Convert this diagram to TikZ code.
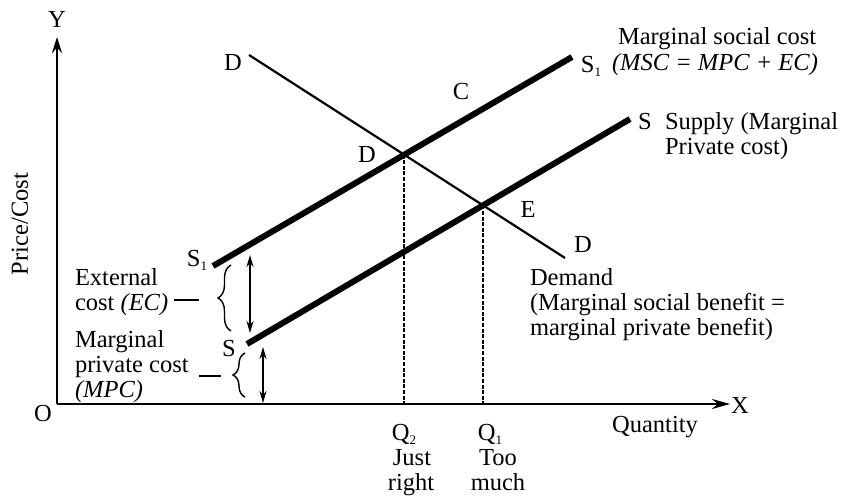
\documentclass[tikz,border=0pt]{standalone}
\usepackage{fontspec}
\setmainfont{Liberation Serif}
\usetikzlibrary{arrows.meta,decorations.pathreplacing}
\newcommand{\subone}[1]{\raisebox{-4pt}{\fontsize{13}{13}\selectfont #1}}
\begin{document}
\begin{tikzpicture}[x=1pt,y=-1pt,
  every node/.style={inner sep=0pt,outer sep=0pt,font=\fontsize{24.5}{25}\selectfont},
  axisline/.style={line width=2.4pt},
  supplyline/.style={line width=6pt},
  demandline/.style={line width=2.2pt},
  guide/.style={line width=2.3pt,dash pattern=on 4pt off 1.6pt},
  dbl/.style={line width=1.8pt,{Stealth[length=12pt,width=7pt]}-{Stealth[length=12pt,width=7pt]}},
  bracestyle/.style={line width=1.4pt,decorate,decoration={brace,amplitude=#1}},
  tickline/.style={line width=1.4pt},
  lbl/.style={anchor=base},
  lblw/.style={anchor=base west}]
\useasboundingbox (0,0) rectangle (843,502);

% axes
\coordinate (O) at (57,404);
\coordinate (ytop) at (57,37);
\coordinate (xend) at (730,404);
\draw[axisline,-{Stealth[length=16pt,width=10pt]}] (O) -- (ytop);
\draw[axisline,-{Stealth[length=18pt,width=10pt]}] (O) -- (xend);
\node[lbl] (ylab) at (57,28) {Y};
\node[lbl] (xlab) at (740,413) {X};
\node[lbl] (olab) at (43,421) {O};
\node[rotate=90] (pclab) at (20,224) {Price/Cost};
\node[lbl] (qlab) at (655,432) {Quantity};

% curves
\coordinate (s1a) at (213,266);
\coordinate (s1b) at (572,57);
\coordinate (sa) at (247,344);
\coordinate (sb) at (630,119);
\coordinate (da) at (249,55);
\coordinate (db) at (565,258);
\draw[demandline] (da) -- (db);
\draw[supplyline] (s1a) -- (s1b);
\draw[supplyline] (sa) -- (sb);

\coordinate (Dpt) at (intersection of da--db and s1a--s1b);
\coordinate (Ept) at (intersection of da--db and sa--sb);
\draw[guide] (Dpt) -- (Dpt |- O);
\draw[guide] (Ept) -- (Ept |- O);

% point labels
\node[lbl] (dtop) at (233,71) {D};
\node[lbl] (dmid) at (367,163) {D};
\node[lbl] (clab) at (461,100) {C};
\node[lbl] (elab) at (528,218) {E};
\node[lbl] (dlow) at (583,253) {D};
\node[lbl] (s1left) at (197,267) {S\subone{1}};
\node[lbl] (sleft) at (229,357) {S};
\node[lbl] (s1right) at (591,73) {S\subone{1}};
\node[lbl] (sright) at (645,130) {S};

% right texts
\node[lblw] (msc1) at (618,45) {Marginal social cost};
\node[lblw] (msc2) at (612,71) {\textit{(MSC = MPC + EC)}};
\node[lblw] (sup1) at (665,130) {Supply (Marginal};
\node[lblw] (sup2) at (665,155) {Private cost)};
\node[lblw] (dem1) at (530,286) {Demand};
\node[lblw] (dem2) at (530,311) {(Marginal social benefit =};
\node[lblw] (dem3) at (530,336) {marginal private benefit)};

% quantity labels
\node[lbl] (q2) at (404,440) {Q\subone{2}};
\node[lbl] (q1) at (490,440) {Q\subone{1}};
\node[lbl] (just) at (412,465) {Just};
\node[lbl] (right) at (411,490) {right};
\node[lbl] (too) at (498,465) {Too};
\node[lbl] (much) at (498,490) {much};

% left labels
\node[lblw] (ec1) at (75,286) {External};
\node[lblw] (ec2) at (75,311) {cost \textit{(EC)}};
\node[lblw] (mpc1) at (75,348) {Marginal};
\node[lblw] (mpc2) at (75,373) {private cost};
\node[lblw] (mpc3) at (75,397) {\textit{(MPC)}};

% dashes and braces
\coordinate (ecd1) at (174,300);
\coordinate (ecd2) at (199,300);
\coordinate (mpd1) at (199,376);
\coordinate (mpd2) at (221,376);
\draw[tickline] (ecd1) -- (ecd2);
\draw[tickline] (mpd1) -- (mpd2);
\coordinate (b1lo) at (231,331);
\coordinate (b1hi) at (231,265);
\coordinate (b2lo) at (245,397);
\coordinate (b2hi) at (245,353);
\draw[bracestyle=13pt] (b1lo) -- (b1hi);
\draw[bracestyle=12pt] (b2lo) -- (b2hi);

% double arrows
\coordinate (a1t) at (250,255);
\coordinate (a1b) at (250,333);
\coordinate (a2t) at (263,347);
\coordinate (a2b) at (263,403);
\draw[dbl] (a1t) -- (a1b);
\draw[dbl] (a2t) -- (a2b);
\end{tikzpicture}
\end{document}
